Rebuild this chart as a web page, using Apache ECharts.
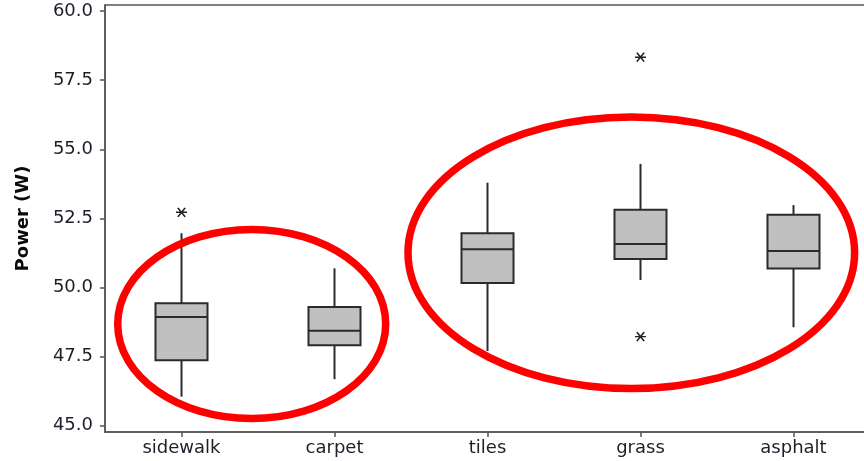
<!DOCTYPE html>
<html><head><meta charset="utf-8">
<script src="https://cdn.jsdelivr.net/npm/echarts@6/dist/echarts.min.js"></script>
<style>html,body{margin:0;padding:0;background:#fff}#c{width:864px;height:461px}</style>
</head><body><div id="c"></div>
<script>
const categories = ['sidewalk', 'carpet', 'tiles', 'grass', 'asphalt'];
const whiskerLow  = [46.05, 46.68, 47.70, 50.27, 48.56];
const q1          = [47.37, 47.91, 50.16, 51.03, 50.69];
const median      = [48.93, 48.43, 51.38, 51.57, 51.32];
const q3          = [49.43, 49.29, 51.96, 52.81, 52.63];
const whiskerHigh = [51.96, 50.69, 53.79, 54.47, 52.98];
const outlierCategory = ['sidewalk', 'grass', 'grass'];
const outlierValue    = [52.72, 58.33, 48.22];
const yTicks = [45, 47.5, 50, 52.5, 55, 57.5, 60];

const FONT = 'DejaVu Sans';
const boxData = categories.map((c, i) => [i, whiskerLow[i], q1[i], median[i], q3[i], whiskerHigh[i]]);
const outData = outlierCategory.map((c, i) => [c, outlierValue[i]]);

const chart = echarts.init(document.getElementById('c'), null, {renderer: 'canvas'});
chart.setOption({
  animation: false,
  backgroundColor: '#fff',
  grid: {left: 105, top: 5, width: 765, height: 427, outerBoundsMode: 'none', containLabel: false,
    show: true, borderColor: '#555', borderWidth: 1.5, backgroundColor: 'transparent'},
  xAxis: {
    type: 'category', data: categories, boundaryGap: true,
    axisLine: {show: true, lineStyle: {color: '#555', width: 1.5}},
    axisTick: {show: true, alignWithLabel: true, length: 5, lineStyle: {color: '#555', width: 1.5}},
    axisLabel: {fontFamily: FONT, fontSize: 18, color: '#1e1e2a', margin: 7},
    splitLine: {show: false}
  },
  yAxis: {
    type: 'value', min: 44.77, max: 60.22,
    name: 'Power (W)', nameLocation: 'middle', nameGap: 73,
    nameTextStyle: {fontFamily: FONT, fontSize: 18, fontWeight: 'bold', color: '#0a0a0a'},
    axisLine: {show: true, lineStyle: {color: '#555', width: 1.5}},
    axisTick: {show: true, length: 5, customValues: yTicks, lineStyle: {color: '#555', width: 1.5}},
    axisLabel: {customValues: yTicks, formatter: v => Number(v).toFixed(1), fontFamily: FONT, fontSize: 18, color: '#1e1e2a', margin: 12},
    splitLine: {show: false}
  },
  series: [
    {
      type: 'custom',
      data: boxData,
      renderItem: function (params, api) {
        const idx = api.value(0);
        const pLow = api.coord([idx, api.value(1)]);
        const pQ1 = api.coord([idx, api.value(2)]);
        const pMed = api.coord([idx, api.value(3)]);
        const pQ3 = api.coord([idx, api.value(4)]);
        const pHigh = api.coord([idx, api.value(5)]);
        const half = api.size([1, 0])[0] * 0.17;
        const x = pQ1[0];
        const lineStyle = {stroke: '#2b2b2b', lineWidth: 2};
        return {
          type: 'group',
          children: [
            {type: 'line', shape: {x1: x, y1: pHigh[1], x2: x, y2: pQ3[1]}, style: lineStyle},
            {type: 'line', shape: {x1: x, y1: pQ1[1], x2: x, y2: pLow[1]}, style: lineStyle},
            {type: 'rect', shape: {x: x - half, y: pQ3[1], width: half * 2, height: pQ1[1] - pQ3[1]},
              style: {fill: '#c0c0c0', stroke: '#2b2b2b', lineWidth: 2}},
            {type: 'line', shape: {x1: x - half, y1: pMed[1], x2: x + half, y2: pMed[1]}, style: lineStyle}
          ]
        };
      }
    },
    {
      type: 'scatter',
      data: outData,
      symbol: 'path://M0,5 L12,5 M2,0.5 L10,9.5 M10,0.5 L2,9.5',
      symbolSize: [11, 9],
      itemStyle: {color: 'none', borderColor: '#222', borderWidth: 1.5, opacity: 1}
    }
  ],
  graphic: [
    {type: 'ellipse', z: 100, shape: {cx: 251.7, cy: 324, rx: 134, ry: 94.6}, style: {fill: 'none', stroke: '#ff0000', lineWidth: 7.5}},
    {type: 'ellipse', z: 100, shape: {cx: 631.3, cy: 252.8, rx: 223.3, ry: 135.8}, style: {fill: 'none', stroke: '#ff0000', lineWidth: 7.5}}
  ]
});
</script>
</body></html>
